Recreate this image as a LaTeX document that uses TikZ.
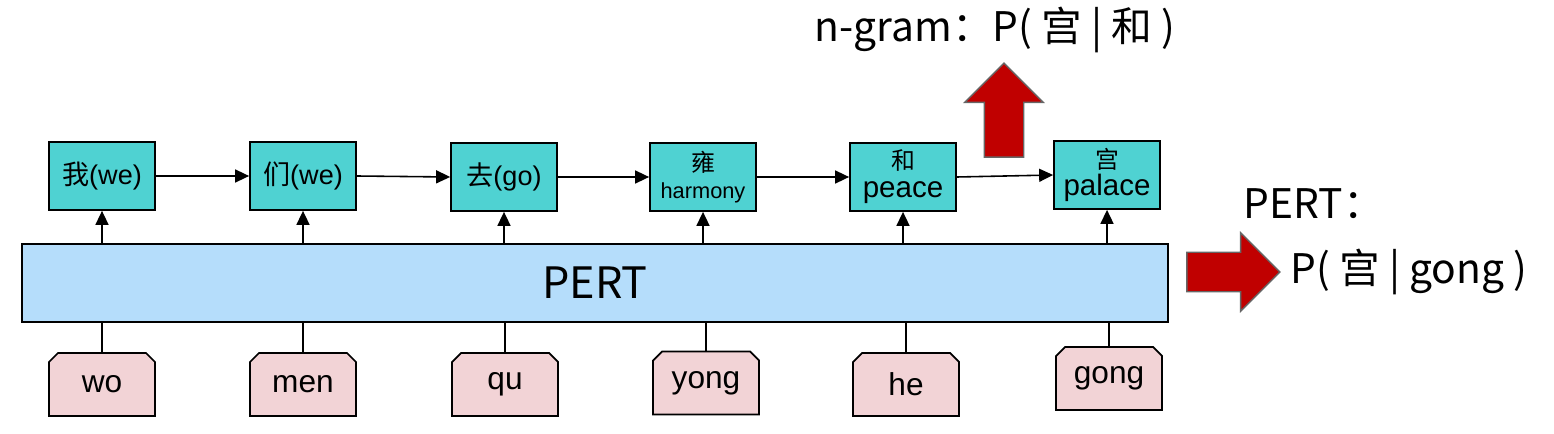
\documentclass[tikz,border=0pt]{standalone}
\usepackage{fontspec}
\setmainfont{Liberation Sans}
\newfontfamily\cjk{Noto Sans CJK SC}
\usetikzlibrary{positioning,arrows.meta,shapes.misc,shapes.arrows}
\definecolor{pnTeal}{RGB}{79,210,210}
\definecolor{pnBlue}{RGB}{181,221,251}
\definecolor{pnPink}{RGB}{242,211,214}
\definecolor{pnRed}{RGB}{192,0,0}

\begin{document}
\begin{tikzpicture}[
  font=\fontsize{7.7}{8.5}\selectfont,
  outbox/.style={draw, line width=0.5pt, fill=pnTeal, minimum width=1.06cm, minimum height=0.68cm, inner sep=1pt, align=center},
  pyin/.style={chamfered rectangle, chamfered rectangle corners={north west,north east}, chamfered rectangle xsep=0.04cm, chamfered rectangle ysep=0.05cm, draw, line width=0.5pt, fill=pnPink, minimum width=1.06cm, minimum height=0.63cm, inner sep=1pt, font=\fontsize{9}{10}\selectfont},
  arr/.style={-{Triangle[length=1.4mm, width=1.3mm]}, line width=0.45pt},
  link/.style={line width=0.45pt},
  bigarr/.style={single arrow, draw=black!60, line width=0.4pt, fill=pnRed, single arrow head extend=0.195cm, single arrow tip angle=90, inner xsep=0pt, inner ysep=0.19cm},
  note/.style={font=\cjk\fontsize{11.6}{13}\selectfont, inner sep=0pt},
]
\useasboundingbox (0,0) rectangle (15.54,4.33);
% encoder
\node[draw, line width=0.5pt, fill=pnBlue, minimum width=11.46cm, minimum height=0.78cm, font=\cjk\fontsize{12.3}{14}\selectfont] (pert) at (5.95,1.50) {PERT};
% outputs
\node[outbox] (t1) at (1.02,2.57) {{\cjk 我}(we)};
\node[outbox] (t2) at (3.03,2.57) {{\cjk 们}(we)};
\node[outbox] (t3) at (5.04,2.56) {{\cjk 去}(go)};
\node[outbox] (t4) at (7.03,2.56) {{\cjk\fontsize{6.8}{7}\selectfont 雍}\\[-1pt]{\fontsize{6.2}{7}\selectfont harmony}};
\node[outbox] (t5) at (9.03,2.56) {{\cjk\fontsize{6.8}{7}\selectfont 和}\\[-0.5pt]{\fontsize{8.4}{9}\selectfont peace}};
\node[outbox] (t6) at (11.07,2.58) {{\cjk\fontsize{6.8}{7}\selectfont 宫}\\[-1pt]{\fontsize{8.4}{9}\selectfont palace}};
% pinyin inputs
\foreach \x/\y/\lab [count=\i] in {1.02/0.485/wo, 3.03/0.485/men, 5.05/0.485/qu, 7.06/0.50/yong, 9.06/0.485/he, 11.09/0.545/gong}
  \node[pyin] (p\i) at (\x,\y) {\raisebox{-1.6pt}{\lab}};
% connectors
\foreach \i in {1,...,6} {
  \draw[link] (p\i.north) -- (p\i.north |- pert.south);
  \draw[arr] (t\i.south |- pert.north) -- (t\i.south);
}
\foreach \i/\j in {1/2, 2/3, 3/4, 4/5, 5/6}
  \draw[arr] (t\i.east) -- (t\j.west);
% comparison
\node[bigarr, minimum height=0.94cm, rotate=90] (up) at (10.04,3.13) {};
\node[note] (ngram) at (9.95,4.03) {n-gram：P( 宫 | 和 )};
\node[bigarr, minimum height=0.93cm] (right) at (12.235,1.61) {};
\node[note, anchor=west] (pertlab) at (12.43,2.29) {PERT：};
\node[note, anchor=west] (prob) at (12.90,1.61) {P(~宫 | gong~)};
\end{tikzpicture}
\end{document}
